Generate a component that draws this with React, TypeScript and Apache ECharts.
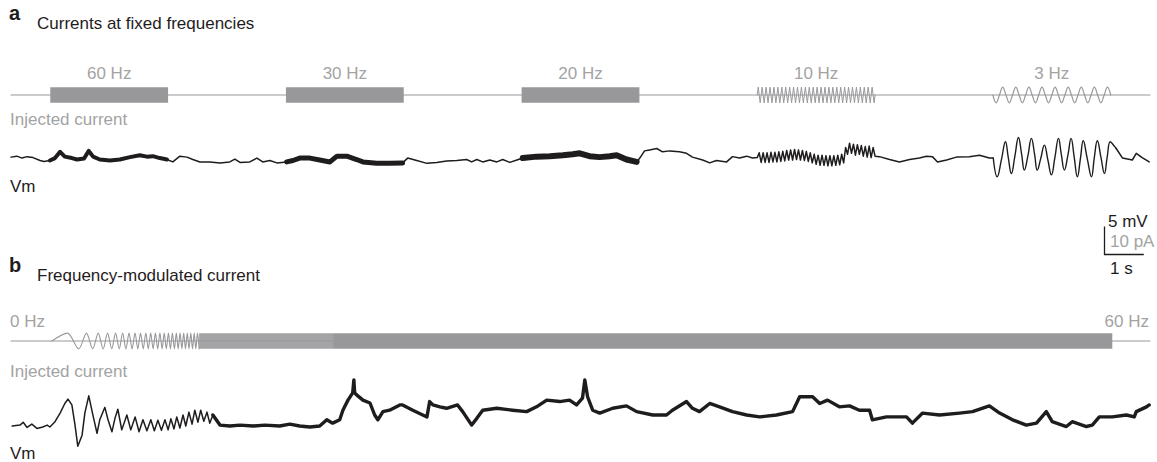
import React, { useEffect, useRef } from "react";
import * as echarts from "echarts";

const WIDTH = 1157;
const HEIGHT = 462;
const T_MAX = 29; // s

// ---------- Panel a : injected current at fixed frequencies (pA) ----------
const freqLabelsA = ["60 Hz", "30 Hz", "20 Hz", "10 Hz", "3 Hz"];
const blockStartsA = [1, 7, 13, 19, 25]; // s
const blockDurationA = 3; // s
const currentAmpA = 2.8; // pA
const current10HzStart = 19.025;
const current10HzStep = 0.05;
const current10HzValues = [
  2.8, -2.8, 2.8, -2.8, 2.8, -2.8, 2.8, -2.8, 2.8, -2.8,
  2.8, -2.8, 2.8, -2.8, 2.8, -2.8, 2.8, -2.8, 2.8, -2.8,
  2.8, -2.8, 2.8, -2.8, 2.8, -2.8, 2.8, -2.8, 2.8, -2.8,
  2.8, -2.8, 2.8, -2.8, 2.8, -2.8, 2.8, -2.8, 2.8, -2.8,
  2.8, -2.8, 2.8, -2.8, 2.8, -2.8, 2.8, -2.8, 2.8, -2.8,
  2.8, -2.8, 2.8, -2.8, 2.8, -2.8, 2.8, -2.8, 2.8, -2.8,
];
const current3HzStart = 25;
const current3HzStep = 1 / 12;
const current3HzValues = [
  0, -2.8, 0, 2.8, 0, -2.8, 0, 2.8, 0, -2.8, 0, 2.8, 0, -2.8, 0, 2.8, 0, -2.8, 0, 2.8,
  0, -2.8, 0, 2.8, 0, -2.8, 0, 2.8, 0, -2.8, 0, 2.8, 0, -2.8, 0, 2.8, 0,
];

// ---------- Panel a : membrane potential (mV, relative) ----------
const vmATrace: [number, number][] = [
  [0.0, 0.6], [0.15, 0.8], [0.28, 0.4], [0.41, 0.7], [0.56, 0.5], [0.74, -0.1], [0.84, -0.3], [0.99, -0.1],
  [1.12, 0.4], [1.25, 1.7], [1.37, 0.7], [1.55, 0.4], [1.68, 0.1], [1.86, 0.3], [1.98, 1.9], [2.09, 0.7],
  [2.26, 0.1], [2.52, -0.1], [2.77, 0.1], [3.03, 0.6], [3.28, 1.0], [3.46, 0.7], [3.61, 0.8], [3.79, 0.4], [3.97, 0.1],
  [4.12, -0.4], [4.3, 0.8], [4.48, 0.6], [4.63, 0.1], [4.81, -0.4], [5.06, -0.4], [5.32, -0.6], [5.57, -0.4],
  [5.7, 0.2], [5.83, -0.5], [6.08, -0.4], [6.26, 0.4], [6.41, -0.4], [6.59, -0.1], [6.77, -0.6],
  [7.02, -0.4], [7.18, -0.1], [7.35, 0.4], [7.61, 0.4], [7.86, 0.0], [8.12, -0.4], [8.3, 0.8], [8.55, 0.8],
  [8.8, 0.1], [8.96, -0.4], [9.31, -0.7], [9.64, -0.7], [9.97, -0.6],
  [10.1, 0.4], [10.33, -0.1], [10.59, -0.7], [10.84, -0.5], [11.09, -0.2], [11.35, -0.1], [11.6, 0.1],
  [11.73, -0.4], [11.86, 0.1], [12.01, -0.4], [12.19, 0.0], [12.37, -0.4], [12.52, 0.1], [12.7, -0.5], [12.88, 0.0],
  [13.03, 0.4], [13.38, 0.7], [13.72, 0.8], [14.05, 1.0], [14.3, 1.2], [14.48, 1.4], [14.73, 0.8], [14.99, 0.6],
  [15.24, 0.8], [15.42, 1.0], [15.67, 0.1], [15.93, -0.4],
  [16.01, 0.4], [16.13, 1.9], [16.26, 2.1], [16.44, 2.4], [16.59, 1.7], [16.77, 1.9], [17.02, 1.7], [17.2, 1.4],
  [17.35, 0.6], [17.61, 0.0], [17.79, -0.6], [17.96, -0.1], [18.22, -0.4], [18.37, 0.7], [18.55, 0.4],
  [18.73, 0.8], [18.88, 0.4],
  [22.11, 0.7], [22.37, 0.1], [22.62, -0.4], [22.88, 0.1], [23.13, 0.4], [23.31, 0.8], [23.46, 0.7],
  [23.59, -0.4], [23.82, 0.0], [24.07, 0.6], [24.4, 0.7], [24.66, 1.0], [24.91, 0.4], [25.01, 0.4],
  [25.11, -3.5], [25.22, 0.2], [25.32, 3.8], [25.39, 0.6], [25.47, -2.8], [25.56, 0.8], [25.65, 4.7], [25.73, 1.3],
  [25.8, -2.1], [25.89, 0.8], [25.98, 4.5], [26.06, 1.3], [26.13, -2.1], [26.22, 0.4], [26.31, 3.1], [26.4, 0.0],
  [26.49, -3.1], [26.58, 0.6], [26.67, 4.5], [26.74, 1.3], [26.82, -2.1], [26.91, 1.0], [26.99, 4.5], [27.07, 0.6],
  [27.15, -3.5], [27.23, 0.4], [27.3, 4.0], [27.4, 0.4], [27.51, -3.5], [27.58, 0.4], [27.66, 4.0], [27.75, 0.6],
  [27.84, -2.8], [27.91, 0.6], [27.99, 3.8], [28.09, 2.9], [28.14, 2.4], [28.3, 0.4], [28.55, 0.0], [28.65, 1.4],
  [28.8, 0.5], [28.98, -0.4],
];
// 10 Hz response, sampled at its peaks and troughs
const vmA10HzStart = 19.0;
const vmA10HzStep = 0.05;
const vmA10HzValues = [
  0.5, 1.5, -0.5, 1.5, -0.5, 1.5, -0.5, 1.6, -0.4, 1.6, -0.4, 1.7, -0.3, 1.8, -0.2, 2.0, 0.0, 2.1, 0.0, 2.2,
  0.1, 2.1, 0.0, 2.0, -0.1, 1.8, -0.3, 1.5, -0.6, 1.2, -0.9, 1.0, -1.1, 1.0, -1.1, 0.9, -1.2, 0.9, -1.2, 0.9,
  -1.1, 1.0, -1.0, 1.2, -0.6, 2.6, 1.2, 3.5, 1.4, 3.3, 1.0, 3.2, 1.2, 3.0, 0.8, 2.8, 0.6, 2.9, 0.5, 2.6, 0.8,
];

// ---------- Panel b : frequency-modulated current (pA) ----------
const chirpStart = 1.04; // s
const chirpEnd = 28.04; // s
const chirpAmp = 2.8; // pA
const chirpExtremaTimes = [
  1.435, 1.723, 1.921, 2.081, 2.221, 2.346, 2.458, 2.565, 2.662, 2.756, 2.842, 2.926, 3.005, 3.084, 3.158,
  3.229, 3.298, 3.366, 3.433, 3.496, 3.557, 3.618, 3.677, 3.735, 3.791, 3.847, 3.901, 3.954, 4.008, 4.059, 4.109,
  4.16, 4.209, 4.257, 4.305, 4.351, 4.397, 4.443, 4.489, 4.532, 4.578, 4.621, 4.664, 4.705, 4.748, 4.789,
];
const chirpExtremaValues = [
  2.8, -2.8, 2.8, -2.8, 2.8, -2.8, 2.8, -2.8, 2.8, -2.8, 2.8, -2.8, 2.8, -2.8, 2.8,
  -2.8, 2.8, -2.8, 2.8, -2.8, 2.8, -2.8, 2.8, -2.8, 2.8, -2.8, 2.8, -2.8, 2.8, -2.8, 2.8,
  -2.8, 2.8, -2.8, 2.8, -2.8, 2.8, -2.8, 2.8, -2.8, 2.8, -2.8, 2.8, -2.8, 2.8, -2.8,
];
const chirpDenseUntil = 8.2; // s, where the dense chirp turns solid

// ---------- Panel b : membrane potential (mV, relative) ----------
const vmBTrace: [number, number][] = [
  [0.03, -2.3], [0.23, -2.1], [0.31, -1.5], [0.41, -2.6], [0.53, -1.9], [0.66, -2.8], [0.81, -2.5], [0.92, -2.1],
  [0.99, -2.5], [1.12, -1.4], [1.25, 0.4], [1.37, 2.4], [1.45, 3.3], [1.55, 2.1], [1.63, -2.1], [1.7, -6.5],
  [1.81, -4.2], [1.88, 0.4], [1.98, 4.0], [2.09, -0.2], [2.19, -3.8], [2.26, -1.0], [2.39, 1.6], [2.47, -1.0],
  [2.57, -3.5], [2.65, -0.6], [2.72, 1.2], [2.82, -3.1], [2.95, 0.0], [3.05, -3.1], [3.16, -0.4], [3.26, -3.5],
  [3.36, -1.0], [3.46, -3.3], [3.56, -1.0], [3.65, -3.3], [3.74, -1.1], [3.83, -3.2], [3.92, -1.0], [4.0, -3.1],
  [4.07, -0.8], [4.15, -2.9], [4.22, -0.4], [4.3, -2.7], [4.38, 0.0], [4.45, -2.3], [4.53, 0.6], [4.61, -1.9],
  [4.68, 1.0], [4.76, -1.5], [4.83, 1.0], [4.91, -1.3], [4.99, 0.6], [5.06, -1.7], [5.14, 0.0],
  [5.32, -2.1], [5.57, -2.3], [5.83, -2.1], [6.16, -2.3], [6.46, -2.1], [6.84, -2.3], [7.1, -1.9], [7.35, -2.3],
  [7.61, -2.5], [7.86, -2.3], [8.04, -1.0], [8.19, -1.7], [8.37, -1.0], [8.45, 1.0], [8.58, 3.1], [8.7, 4.6],
  [8.73, 7.3], [8.75, 4.6], [8.8, 4.2], [8.96, 3.1], [9.14, 2.5], [9.26, 0.0], [9.34, -1.0], [9.47, 0.7],
  [9.64, 1.0], [9.9, 2.1], [9.97, 2.1], [10.23, 1.0], [10.59, -0.4], [10.66, 2.8], [10.74, 2.1], [10.92, 1.7],
  [11.09, 1.4], [11.37, 2.1], [11.5, 0.7], [11.73, -2.1], [11.86, -0.7], [12.01, 1.0], [12.37, 1.4], [12.77, 1.0],
  [13.13, 0.7], [13.38, 1.7], [13.64, 3.1], [13.97, 2.8], [14.22, 3.1], [14.4, 2.1], [14.55, 3.5], [14.61, 7.3],
  [14.68, 3.8], [14.81, 1.0], [14.99, 0.4], [15.32, 1.4], [15.67, 1.9], [15.93, 0.7], [16.34, 0.0], [16.69, 0.0],
  [16.84, 1.0], [17.2, 2.8], [17.35, 1.4], [17.53, 0.7], [17.79, 2.4], [18.04, 1.7], [18.37, 0.7], [18.73, 0.0],
  [19.06, -0.4], [19.49, 0.0], [19.9, 0.7], [20.08, 3.8], [20.41, 3.8], [20.59, 2.4], [20.79, 3.1], [21.09, 1.7],
  [21.35, 1.9], [21.6, 1.0], [21.86, 1.0], [21.93, -1.0], [22.29, -0.4], [22.8, -0.4], [22.95, -1.7], [23.21, 0.4],
  [23.64, 0.0], [24.15, 0.4], [24.48, 0.7], [24.91, 1.9], [25.17, 0.4], [25.5, -1.0], [25.85, -2.1], [26.11, -1.7],
  [26.36, 0.7], [26.51, -1.4], [26.87, -2.4], [27.02, -1.4], [27.38, -2.4], [27.53, -2.1], [27.71, -0.4],
  [28.04, -0.4], [28.4, 0.0], [28.6, -0.4], [28.65, 0.7], [28.91, 1.7], [28.98, 2.1],
];

// ---------- styling ----------
const FONT = "'Liberation Sans', Arial, Helvetica, sans-serif";
const FS = 17;
const STIM_COLOR = "#98989b";
const STIM_LIGHT = "#a4a4a7";
const LABEL_GRAY = "#a3a3a3";
const TRACE_COLOR = "#1f1c1d";
const GRID_LEFT = 11;
const GRID_WIDTH = 1139;
const GRIDS = [
  { top: 75, height: 40, half: 20 / 2.8 },
  { top: 130, height: 60, half: 30 / 4.8 },
  { top: 321, height: 40, half: 20 / 2.8 },
  { top: 370, height: 90, half: 45 / 4.8 },
];
const THICK_A = [
  { from: 0.99, to: 3.97, width: 4 },
  { from: 7.02, to: 9.97, width: 5 },
  { from: 13.03, to: 15.93, width: 6 },
];
const SMOOTH_A = { from: 25.01, to: 28.14 };
const THICK_B = [{ from: 5.14, to: 29, width: 3.4 }];

const sampled = (start: number, step: number, values: number[]) =>
  values.map((v, i) => [start + i * step, v] as [number, number]);

const slice = (trace: [number, number][], from: number, to: number) =>
  trace.filter(([t]) => t >= from - 1e-9 && t <= to + 1e-9);

export default function App() {
  const ref = useRef<HTMLDivElement>(null);

  useEffect(() => {
    document.body.style.margin = "0";
    if (!ref.current) return;
    const chart = echarts.init(ref.current, undefined, { renderer: "svg" });

    const vmAFull = [...vmATrace, ...sampled(vmA10HzStart, vmA10HzStep, vmA10HzValues)].sort(
      (a, b) => a[0] - b[0]
    );

    const line = (idx: number, data: any[], color: string, width: number, extra: any = {}) => ({
      type: "line",
      xAxisIndex: idx,
      yAxisIndex: idx,
      data,
      symbol: "none",
      silent: true,
      lineStyle: { color, width, cap: "round", join: "round" },
      ...extra,
    });

    const band = (idx: number, bands: number[][], color: string) => ({
      type: "custom",
      xAxisIndex: idx,
      yAxisIndex: idx,
      silent: true,
      data: bands,
      encode: { x: [0, 1], y: [2, 3] },
      renderItem: (_p: any, api: any) => {
        const a = api.coord([api.value(0), api.value(3)]);
        const b = api.coord([api.value(1), api.value(2)]);
        return {
          type: "rect",
          shape: { x: a[0], y: a[1], width: b[0] - a[0], height: b[1] - a[1] },
          style: { fill: color },
        };
      },
    });

    const chirpLast = chirpExtremaTimes[chirpExtremaTimes.length - 1];

    const series: any[] = [
      // panel a current
      line(0, [[0, 0], [T_MAX, 0]], STIM_COLOR, 1.2),
      band(
        0,
        blockStartsA.slice(0, 3).map((s) => [s, s + blockDurationA, -currentAmpA, currentAmpA]),
        STIM_COLOR
      ),
      line(
        0,
        [[blockStartsA[3], 0], ...sampled(current10HzStart, current10HzStep, current10HzValues), [blockStartsA[3] + blockDurationA, 0]],
        STIM_COLOR,
        1
      ),
      line(0, sampled(current3HzStart, current3HzStep, current3HzValues), STIM_COLOR, 1.2, { smooth: 0.4 }),
      // panel a Vm
      line(1, slice(vmAFull, 0, SMOOTH_A.from), TRACE_COLOR, 1.5),
      line(1, slice(vmAFull, SMOOTH_A.from, SMOOTH_A.to), TRACE_COLOR, 1.4, { smooth: 0.45 }),
      line(1, slice(vmAFull, SMOOTH_A.to, T_MAX), TRACE_COLOR, 1.5),
      ...THICK_A.map((s) => line(1, slice(vmAFull, s.from, s.to), TRACE_COLOR, s.width)),
      // panel b current
      line(2, [[0, 0], [T_MAX, 0]], STIM_COLOR, 1.2),
      line(
        2,
        [[chirpStart, 0], ...chirpExtremaTimes.map((t, i) => [t, chirpExtremaValues[i]])],
        STIM_COLOR,
        1.1,
        { smooth: 0.3 }
      ),
      band(2, [[chirpLast, chirpDenseUntil, -chirpAmp, chirpAmp]], STIM_LIGHT),
      band(2, [[chirpDenseUntil, chirpEnd, -chirpAmp, chirpAmp]], STIM_COLOR),
      // panel b Vm
      line(3, vmBTrace, TRACE_COLOR, 1.5),
      ...THICK_B.map((s) => line(3, slice(vmBTrace, s.from, s.to), TRACE_COLOR, s.width)),
    ];

    chart.setOption({
      animation: false,
      grid: GRIDS.map((g) => ({ left: GRID_LEFT, width: GRID_WIDTH, top: g.top, height: g.height })),
      xAxis: GRIDS.map((_, i) => ({ type: "value", gridIndex: i, min: 0, max: T_MAX, show: false })),
      yAxis: GRIDS.map((g, i) => ({ type: "value", gridIndex: i, min: -g.half, max: g.half, show: false })),
      series,
    });

    const px = (t: number) => chart.convertToPixel({ gridIndex: 0 }, [t, 0])[0];
    const text = (t: string, x: number, y: number, o: any = {}) => ({
      type: "text",
      x,
      y,
      silent: true,
      style: {
        text: t,
        fontFamily: FONT,
        fontSize: FS,
        fill: TRACE_COLOR,
        align: "left",
        verticalAlign: "middle",
        ...o,
      },
    });
    const secPx = px(1) - px(0);
    const barX = 1104.5;
    const barBottom = 254.5;

    chart.setOption({
      graphic: [
        text("a", 9, 13, { fontSize: 20, fontWeight: "bold" }),
        text("Currents at fixed frequencies", 37, 23.5),
        ...freqLabelsA.map((l, i) =>
          text(l, px(blockStartsA[i] + blockDurationA / 2), 73.5, { align: "center", fill: LABEL_GRAY })
        ),
        text("Injected current", 10, 119.5, { fill: LABEL_GRAY }),
        text("Vm", 10, 186),
        text("5 mV", 1108, 221),
        text("10 pA", 1110, 241, { fill: LABEL_GRAY }),
        text("1 s", 1110, 268),
        {
          type: "line",
          silent: true,
          shape: { x1: barX, y1: barBottom - 28, x2: barX, y2: barBottom },
          style: { stroke: TRACE_COLOR, lineWidth: 1.3 },
        },
        {
          type: "line",
          silent: true,
          shape: { x1: barX - 0.6, y1: barBottom, x2: barX + secPx, y2: barBottom },
          style: { stroke: TRACE_COLOR, lineWidth: 1.3 },
        },
        text("b", 9, 265, { fontSize: 20, fontWeight: "bold" }),
        text("Frequency-modulated current", 37, 275.5),
        text("0 Hz", 10, 321, { fill: LABEL_GRAY }),
        text("60 Hz", 1149, 321, { fill: LABEL_GRAY, align: "right" }),
        text("Injected current", 10, 371, { fill: LABEL_GRAY }),
        text("Vm", 10, 453.5),
      ],
    });

    return () => chart.dispose();
  }, []);

  return <div ref={ref} style={{ width: WIDTH, height: HEIGHT }} />;
}
